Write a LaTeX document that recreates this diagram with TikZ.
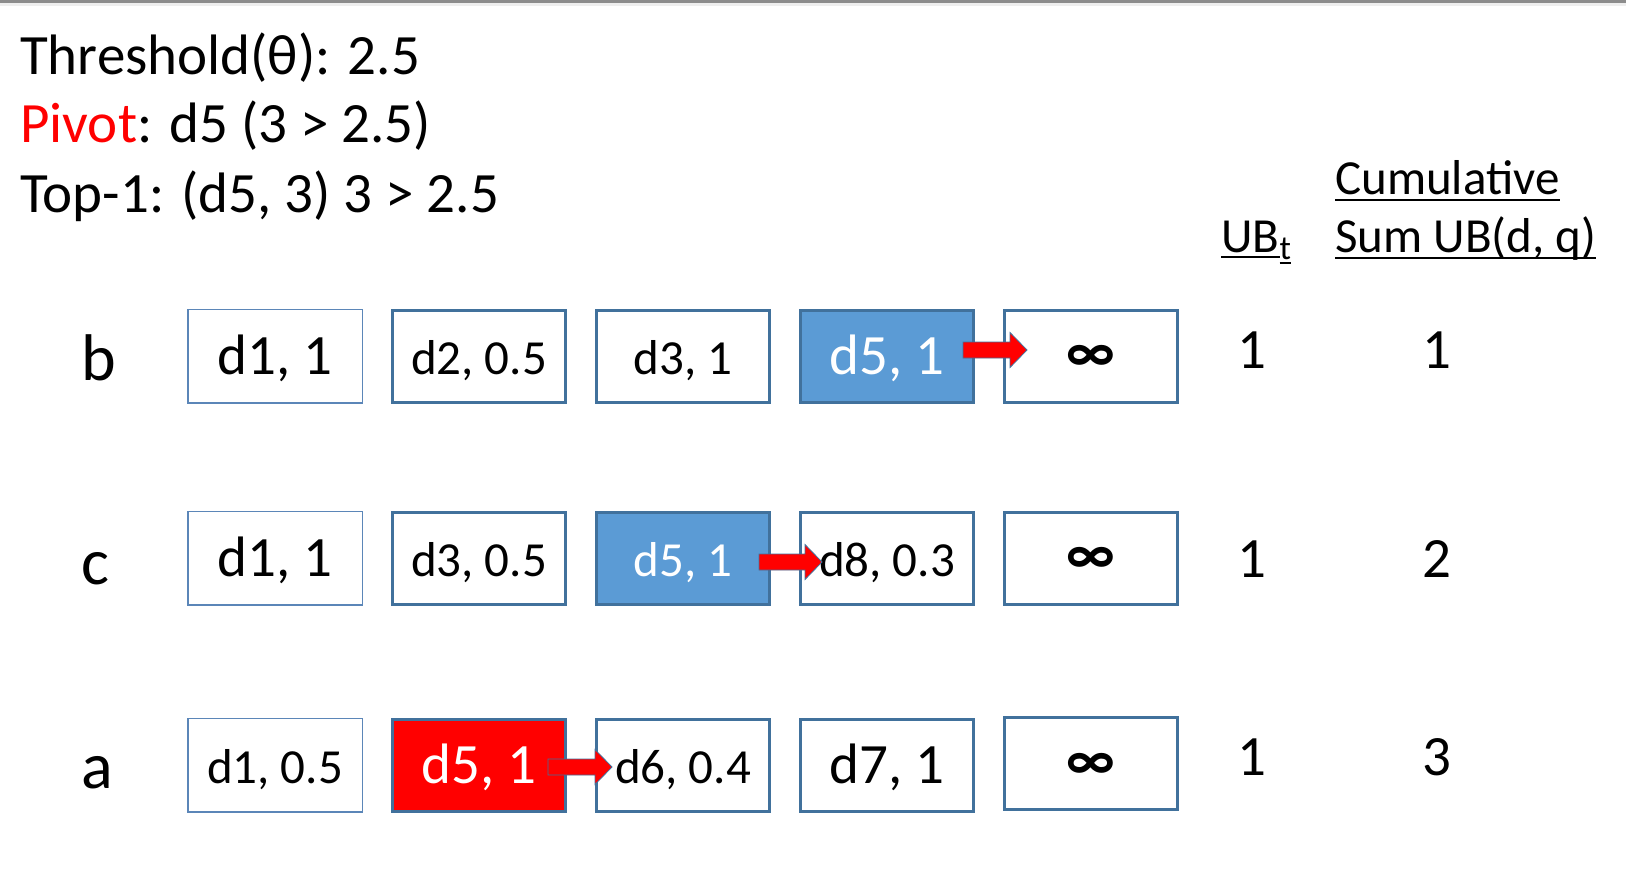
\documentclass[tikz,border=0pt]{standalone}
\usepackage{fontspec}
\setmainfont{Carlito}
\usetikzlibrary{calc}
\definecolor{boxline}{HTML}{41719C}
\definecolor{boxthin}{HTML}{5B86B8}
\definecolor{boxfill}{HTML}{5B9BD5}
\definecolor{pivred}{HTML}{FF0000}
\definecolor{topbar}{HTML}{8C8C8C}
\definecolor{topbarlight}{HTML}{EEEEEE}
\newcommand{\fsz}[1]{\fontsize{#1}{#1}\selectfont}
\newcommand{\blockarrow}[2]{%
  \filldraw[arrowsty] let \p1=(#1), \p2=(#2) in
    (\x1,\y1+8pt) -- (\x2-17pt,\y1+8pt) -- (\x2-17pt,\y1+17.5pt) -- (\x2,\y1)
    -- (\x2-17pt,\y1-17.5pt) -- (\x2-17pt,\y1-8pt) -- (\x1,\y1-8pt) -- cycle;}
\begin{document}
\begin{tikzpicture}[x=1pt,y=-1pt,
  cell/.style={draw=boxline, line width=3pt, fill=white, minimum width=173pt,
    minimum height=92pt, inner sep=0pt, outer sep=0pt, text height=36pt, text depth=0pt},
  thincell/.style={cell, draw=boxthin, line width=1.5pt, minimum width=174.5pt, minimum height=93.5pt},
  bluecell/.style={cell, fill=boxfill, text=white},
  redcell/.style={cell, fill=pivred, text=white},
  big/.style={font=\fsz{57}},
  small/.style={font=\fsz{49}},
  inf/.style={font=\fsz{58}\bfseries, text height=31pt},
  hdr/.style={anchor=base west, inner sep=0pt, font=\fsz{57}},
  rowlab/.style={anchor=base west, inner sep=0pt, font=\fsz{66}},
  num/.style={anchor=base, inner sep=0pt, font=\fsz{57}},
  colhdr/.style={anchor=base west, inner sep=0pt, font=\fsz{49}},
  ul/.style={line width=2.5pt},
  arrowsty/.style={fill=pivred, draw=boxline, line width=0.8pt}
]
\useasboundingbox (0,0) rectangle (1626,872);
\fill[white] (0,0) rectangle (1626,872);
\fill[topbarlight] (0,3.5) rectangle (1626,6);
\fill[topbar] (0,0) rectangle (1626,3.5);

% header text
\node[hdr] (thr) at (20,75) {Threshold(θ): 2.5};
\node[hdr] (piv) at (20,143) {\textcolor{pivred}{Pivot}: d5 (3 > 2.5)};
\node[hdr] (top) at (20,212) {Top-1: (d5, 3) 3 > 2.5};

% column headers
\node[colhdr] (ub) at (1221,252) {UB};
\node[anchor=base west, inner sep=0pt, font=\fsz{34}] (ubt) at ([yshift=-7pt]ub.base east) {t};
\node[colhdr] (cum) at (1335,195) {Cumulative};
\node[colhdr] (sum) at (1335,252) {Sum UB(d, q)};
\draw[ul] ([yshift=-5pt]ub.base west) -- ([yshift=-5pt]ub.base east);
\draw[ul] ([yshift=-4pt]ubt.base west) -- ([yshift=-4pt]ubt.base east);
\draw[ul] ([yshift=-5pt]cum.base west) -- ([yshift=-5pt]cum.base east);
\draw[ul] ([yshift=-6pt]sum.base west) -- ([yshift=-6pt]sum.base east);

% row labels
\node[rowlab] (lb) at (81,380) {b};
\node[rowlab] (lc) at (81,584) {c};
\node[rowlab] (la) at (81,788) {a};

% row b
\node[thincell, big] (b1) at (275,356) {d1, 1};
\node[cell, small] (b2) at (479,356) {d2, 0.5};
\node[cell, small] (b3) at (683,356) {d3, 1};
\node[bluecell, big] (b4) at (887,356) {d5, 1};
\node[cell, inf] (b5) at (1091,356) {∞};

% row c
\node[thincell, big] (c1) at (275,558) {d1, 1};
\node[cell, small] (c2) at (479,558) {d3, 0.5};
\node[bluecell, small] (c3) at (683,558) {d5, 1};
\node[cell, small] (c4) at (887,558) {d8, 0.3};
\node[cell, inf] (c5) at (1091,558) {∞};

% row a
\node[thincell, small] (a1) at (275,765) {d1, 0.5};
\node[redcell, big] (a2) at (479,765) {d5, 1};
\node[cell, small] (a3) at (683,765) {d6, 0.4};
\node[cell, big] (a4) at (887,765) {d7, 1};
\node[cell, inf] (a5) at (1091,763.5) {∞};

% pointer arrows
\coordinate (bs) at ($(b4.east)+(-10.5,-6)$);
\coordinate (bt) at ($(b5.west)+(22.5,-6)$);
\coordinate (cs) at ($(c3.east)+(-10.5,4)$);
\coordinate (ct) at ($(c4.west)+(21.5,4)$);
\coordinate (as) at ($(a2.east)+(-17.5,2)$);
\coordinate (at) at ($(a3.west)+(15.5,2)$);
\blockarrow{bs}{bt}
\blockarrow{cs}{ct}
\blockarrow{as}{at}

% UB_t and cumulative values
\node[num] (ub1) at (1252,368) {1};
\node[num] (ub2) at (1252,577) {1};
\node[num] (ub3) at (1252,775) {1};
\node[num] (cs1) at (1437,368) {1};
\node[num] (cs2) at (1437,577) {2};
\node[num] (cs3) at (1437,775) {3};
\end{tikzpicture}
\end{document}
